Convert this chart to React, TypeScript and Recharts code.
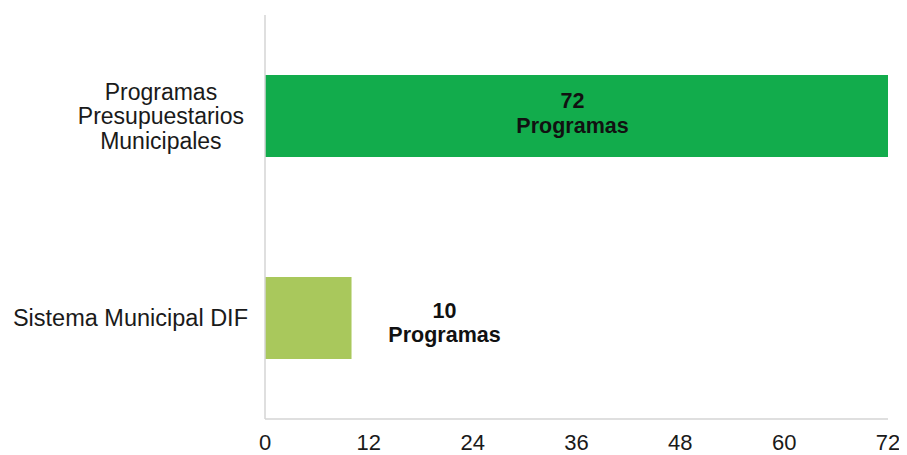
import React from "react";
import { BarChart, Bar, XAxis, YAxis, Cell, LabelList } from "recharts";

const categories = ["Programas\nPresupuestarios\nMunicipales", "Sistema Municipal DIF"];
const values = [72, 10];
const barColors = ["#12ac4c", "#a9c85c"];
const xTicks = [0, 12, 24, 36, 48, 60, 72];
const unitLabel = "Programas";

const data = categories.map((name, i) => ({ name, value: values[i] }));

const FONT = "'Liberation Sans', Arial, sans-serif";
const TEXT = "#1a1a1a";

let ctx: CanvasRenderingContext2D | null = null;
function measure(s: string, size: number, bold = false): number {
  if (!ctx) {
    const c = document.createElement("canvas");
    ctx = c.getContext("2d");
  }
  if (!ctx) return s.length * size * 0.5;
  ctx.font = `${bold ? "bold " : ""}${size}px 'Liberation Sans', Arial, sans-serif`;
  return ctx.measureText(s).width;
}

const YTick = (props: any) => {
  const { x, y, payload } = props;
  const lines: string[] = String(payload.value).split("\n");
  const size = 23;
  const right = x - 9;
  const lh = 24.5;
  if (lines.length === 1) {
    return (
      <text x={right} y={y} dy="0.36em" textAnchor="end" fontFamily={FONT} fontSize={23.5} fill={TEXT}>
        {lines[0]}
      </text>
    );
  }
  const maxW = Math.max(...lines.map((l) => measure(l, size)));
  const cx = right - 4 - maxW / 2;
  return (
    <g>
      {lines.map((l, i) => (
        <text key={i} x={cx} y={y + (i - (lines.length - 1) / 2) * lh} dy="0.36em" textAnchor="middle" fontFamily={FONT} fontSize={size} fill={TEXT}>
          {l}
        </text>
      ))}
    </g>
  );
};

const BarLabel = (props: any) => {
  const { x, y, width, height, value } = props;
  const cy = y + height / 2;
  const inside = width > 200;
  const cx = inside ? x + width / 2 - 4 : x + width + 93;
  const y1 = inside ? cy - 16 : cy - 8;
  const y2 = inside ? cy + 9 : cy + 16;
  return (
    <g>
      <text x={cx} y={y1} dy="0.36em" textAnchor="middle" fontFamily={FONT} fontSize={21.5} fontWeight="bold" fill="#111">
        {value}
      </text>
      <text x={cx} y={y2} dy="0.36em" textAnchor="middle" fontFamily={FONT} fontSize={21.5} fontWeight="bold" fill="#111">
        {unitLabel}
      </text>
    </g>
  );
};

export default function App() {
  return (
    <div style={{ width: 899, height: 447, background: "#fff" }}>
      <BarChart
        width={899}
        height={447}
        data={data}
        layout="vertical"
        margin={{ top: 7, right: 19, bottom: 6, left: 0 }}
      >
        <XAxis
          type="number"
          domain={[0, 72]}
          ticks={xTicks}
          interval={0}
          axisLine={{ stroke: "#d4d4d4", strokeWidth: 1.5 }}
          tickLine={false}
          tickMargin={9}
          height={30}
          tick={{ fontFamily: FONT, fontSize: 22, fill: TEXT }}
        />
        <YAxis
          type="category"
          dataKey="name"
          width={257}
          axisLine={{ stroke: "#d4d4d4", strokeWidth: 1.5 }}
          tickLine={false}
          tick={<YTick />}
          interval={0}
        />
        <Bar dataKey="value" barSize={82} isAnimationActive={false}>
          {data.map((d, i) => (
            <Cell key={i} fill={barColors[i]} />
          ))}
          <LabelList dataKey="value" content={<BarLabel />} />
        </Bar>
      </BarChart>
    </div>
  );
}
